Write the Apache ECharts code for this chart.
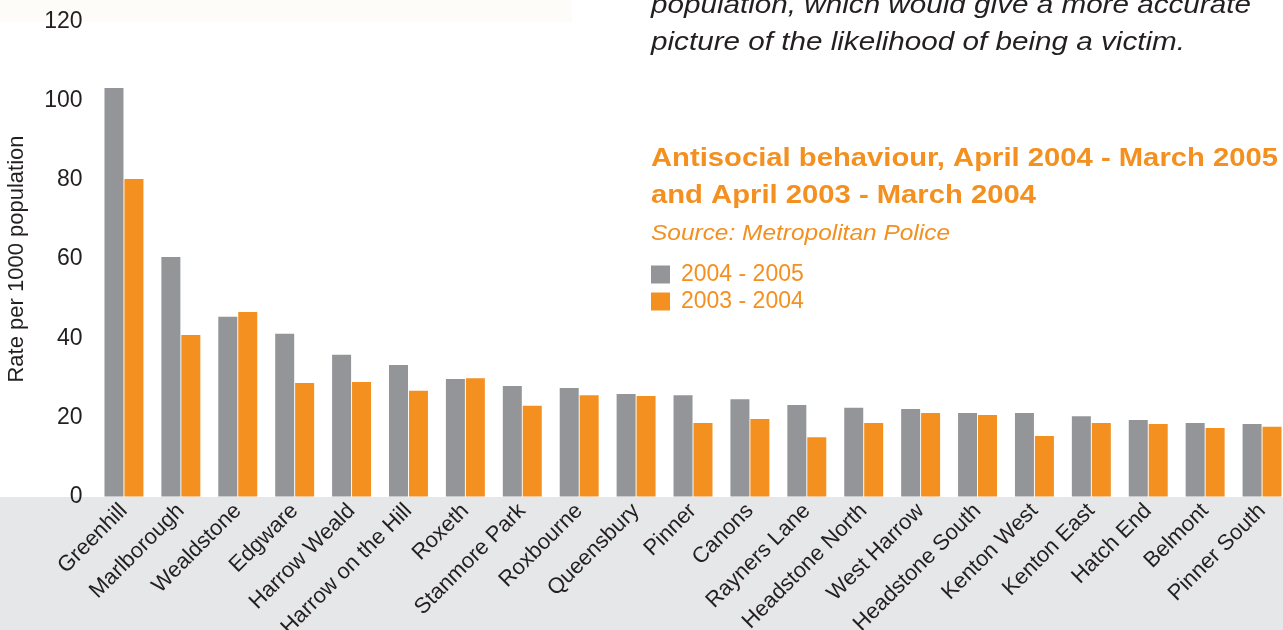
<!DOCTYPE html>
<html>
<head>
<meta charset="utf-8">
<script src="https://cdn.jsdelivr.net/npm/echarts@6/dist/echarts.min.js"></script>
<style>
  html, body { margin: 0; padding: 0; background: #ffffff; }
  #chart { width: 1283px; height: 630px; }
</style>
</head>
<body>
<div id="chart"></div>
<script>
// Harrow wards, ordered by 2004-05 rate
const wards = [
  'Greenhill', 'Marlborough', 'Wealdstone', 'Edgware', 'Harrow Weald',
  'Harrow on the Hill', 'Roxeth', 'Stanmore Park', 'Roxbourne', 'Queensbury',
  'Pinner', 'Canons', 'Rayners Lane', 'Headstone North', 'West Harrow',
  'Headstone South', 'Kenton West', 'Kenton East', 'Hatch End', 'Belmont',
  'Pinner South'
];

// Antisocial behaviour incidents per 1000 population
const rate2004to2005 = [
  103.2, 60.5, 45.4, 41.1, 35.8,
  33.2, 29.7, 27.9, 27.4, 25.9,
  25.6, 24.6, 23.1, 22.4, 22.1,
  21.1, 21.1, 20.3, 19.3, 18.6,
  18.3
];
const rate2003to2004 = [
  80.2, 40.8, 46.6, 28.7, 28.9,
  26.7, 29.9, 22.9, 25.6, 25.4,
  18.6, 19.6, 15.0, 18.6, 21.1,
  20.6, 15.3, 18.6, 18.3, 17.3,
  17.6
];

const seriesNames = ['2004 - 2005', '2003 - 2004'];
const yAxisName = 'Rate per 1000 population';

const introLines = [
  'population, which would give a more accurate',
  'picture of the likelihood of being a victim.'
];
const titleLines = [
  'Antisocial behaviour, April 2004 - March 2005',
  'and April 2003 - March 2004'
];
const sourceLine = 'Source: Metropolitan Police';

const GREY = '#939598';
const ORANGE = '#f39020';
const INK = '#231f20';
const FAMILY = '"Liberation Sans", Arial, sans-serif';

// Horizontal squeeze so a fallback font fills the same width as a condensed face
const measureCtx = document.createElement('canvas').getContext('2d');
function squeeze(text, font, width) {
  measureCtx.font = font;
  return width / measureCtx.measureText(text).width;
}

const introFont = 'italic 26px ' + FAMILY;
const titleFont = 'bold 26px ' + FAMILY;
const sourceFont = 'italic 22px ' + FAMILY;

const introScale = squeeze(introLines[1], introFont, 534);
const titleScale = squeeze(titleLines[0], titleFont, 627);
const sourceScale = squeeze(sourceLine, sourceFont, 299);

function textEl(x, y, text, font, fill, scale) {
  return {
    type: 'text', x: x, y: y, scaleX: scale, silent: true, z: 5,
    style: { x: 0, y: 0, text: text, font: font, fill: fill, verticalAlign: 'middle', align: 'left' }
  };
}

const chart = echarts.init(document.getElementById('chart'), null, { renderer: 'canvas' });

chart.setOption({
  animation: false,
  backgroundColor: '#ffffff',
  textStyle: { fontFamily: FAMILY },
  grid: {
    left: 95.5, right: -7.5, top: 21.5, bottom: 133.5,
    containLabel: false,
    outerBoundsMode: 'none'
  },
  legend: {
    orient: 'vertical',
    left: 651, top: 263,
    padding: 0,
    itemWidth: 19, itemHeight: 18, itemGap: 4,
    icon: 'rect',
    data: seriesNames,
    textStyle: { color: ORANGE, fontSize: 23, fontFamily: FAMILY, padding: [0, 0, 0, 6] },
    selectedMode: false
  },
  xAxis: {
    type: 'category',
    data: wards,
    axisLine: { show: false },
    axisTick: { show: false },
    axisLabel: {
      interval: 0, rotate: 45, margin: 11,
      color: INK, fontSize: 22, fontFamily: FAMILY
    }
  },
  yAxis: {
    type: 'value',
    min: 0, max: 120, interval: 20,
    name: yAxisName,
    nameLocation: 'middle',
    nameGap: 68,
    nameTextStyle: { color: INK, fontSize: 22, fontFamily: FAMILY },
    axisLine: { show: false },
    axisTick: { show: false },
    splitLine: { show: false },
    axisLabel: { color: INK, fontSize: 23, margin: 13, fontFamily: FAMILY }
  },
  graphic: [
    { type: 'rect', silent: true, z: -10, shape: { x: 0, y: 0, width: 572, height: 22 }, style: { fill: '#fdfcf9' } },
    { type: 'rect', silent: true, z: -10, shape: { x: 0, y: 497, width: 1283, height: 133 }, style: { fill: '#e6e7e8' } },
    textEl(651, 6, introLines[0], introFont, INK, introScale),
    textEl(651, 43, introLines[1], introFont, INK, introScale),
    textEl(651, 159, titleLines[0], titleFont, ORANGE, titleScale),
    textEl(651, 196, titleLines[1], titleFont, ORANGE, titleScale),
    textEl(651, 234, sourceLine, sourceFont, ORANGE, sourceScale)
  ],
  series: [
    {
      name: seriesNames[0], type: 'bar', data: rate2004to2005,
      barWidth: 19, barGap: '5%',
      itemStyle: { color: GREY }
    },
    {
      name: seriesNames[1], type: 'bar', data: rate2003to2004,
      barWidth: 19, barGap: '5%',
      itemStyle: { color: ORANGE }
    }
  ]
});
</script>
</body>
</html>
